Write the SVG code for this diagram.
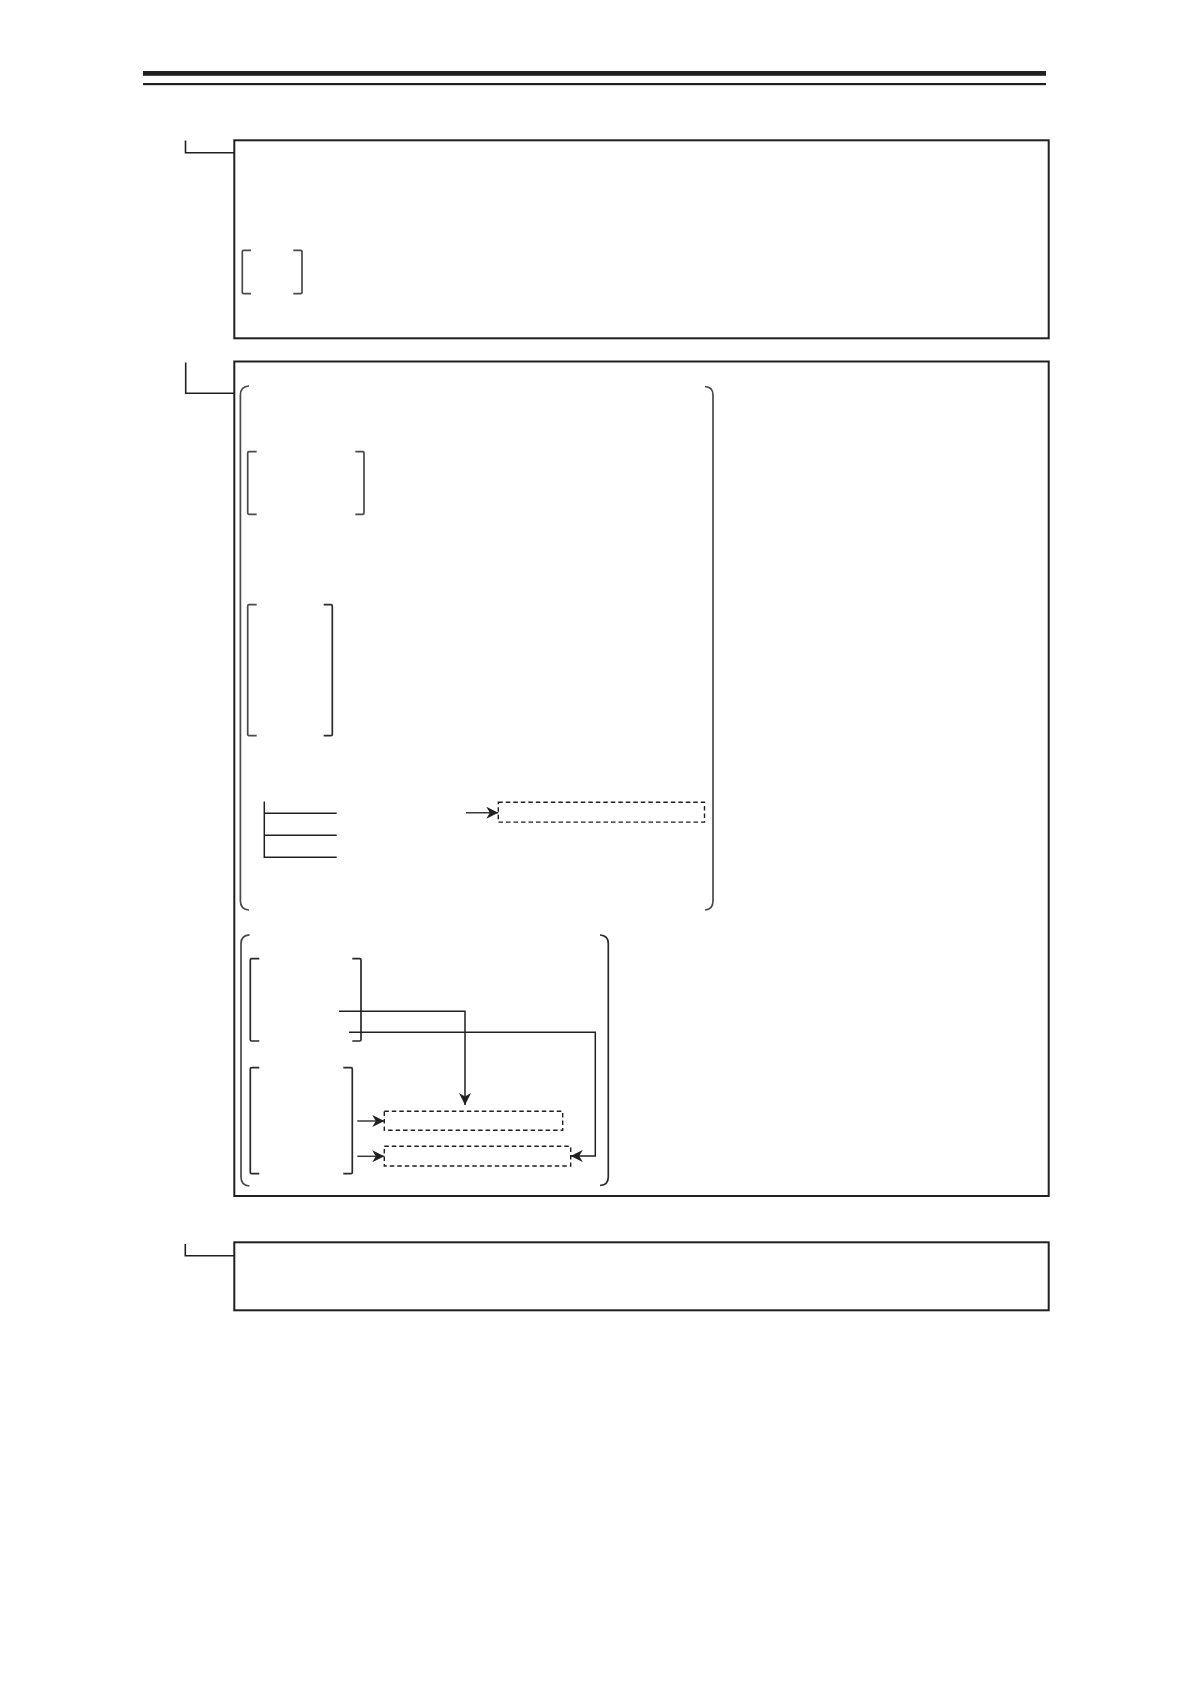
<svg xmlns="http://www.w3.org/2000/svg" width="1191" height="1684" viewBox="0 0 1191 1684">
<style>
.box{fill:none;stroke:#231f20;stroke-width:2}
.lead{fill:none;stroke:#231f20;stroke-width:1.6}
.brk{fill:none;stroke:#4a4a4a;stroke-width:1.7}
.brkd{fill:none;stroke:#2a2a2a;stroke-width:1.7}
.dash{fill:none;stroke:#231f20;stroke-width:1.4;stroke-dasharray:4.5 3}
.con{fill:none;stroke:#231f20;stroke-width:1.5}
.arr{fill:none;stroke:#3a3a3a;stroke-width:1.5;marker-end:url(#ah)}
</style>
<defs>
<marker id="ah" markerUnits="userSpaceOnUse" markerWidth="14" markerHeight="13" refX="12" refY="6" orient="auto">
<path d="M0,0 L12,6 L0,12 L3.5,6 Z" fill="#231f20"/>
</marker>
</defs>
<rect width="1191" height="1684" fill="#fff"/>
<g id="header">
<rect x="143" y="71" width="903" height="4.8" fill="#231f20"/>
<rect x="143" y="83" width="903" height="2.2" fill="#231f20"/>
</g>
<g id="section1">
<path class="lead" d="M185.5 140.5 V152.7 H234.3"/>
<rect class="box" x="234.3" y="140.3" width="814.4" height="198"/>
<path class="brk" d="M251 250.3 H243.5 Q242.3 250.3 242.3 251.5 V292.5 Q242.3 293.7 243.5 293.7 H251"/>
<path class="brk" d="M293.3 250.3 H300.8 Q302 250.3 302 251.5 V292.5 Q302 293.7 300.8 293.7 H293.3"/>
</g>
<g id="section2">
<path class="lead" d="M185.7 362.5 V393.3 H234.3"/>
<rect class="box" x="234.3" y="361.5" width="814.4" height="834.5"/>
<g id="paren1">
<path class="brk" d="M249 386 Q240.4 386.5 240.4 395 V901 Q240.4 909.5 249 910"/>
<path class="brk" d="M705 386.5 Q713 387 713 395 V901 Q713 909.5 705 910"/>
</g>
<g id="bracketA">
<path class="brk" d="M256.7 451.7 H249 Q247.7 451.7 247.7 453 V513 Q247.7 514.3 249 514.3 H256.7"/>
<path class="brk" d="M355.3 451.7 H362.7 Q364 451.7 364 453 V513 Q364 514.3 362.7 514.3 H355.3"/>
</g>
<g id="bracketB">
<path class="brk" d="M256.7 604.7 H249 Q247.7 604.7 247.7 606 V734.4 Q247.7 735.7 249 735.7 H256.7"/>
<path class="brkd" d="M323.7 604.7 H331 Q332.3 604.7 332.3 606 V734.4 Q332.3 735.7 331 735.7 H323.7"/>
</g>
<g id="tree">
<path class="con" d="M264.3 801.5 V857.3 H336.7 M264.3 813.2 H336.7 M264.3 835.3 H336.7"/>
</g>
<g id="dashbox1">
<rect class="dash" x="498.3" y="802.3" width="206.2" height="19.8"/>
</g>
<g id="paren2">
<path class="brk" d="M249.5 934.8 Q241 935.3 241 943.5 V1177 Q241 1185.5 249.5 1186"/>
<path class="brkd" d="M600 935 Q608.3 935.5 608.3 943.5 V1177 Q608.3 1185 600 1185.5"/>
</g>
<g id="bracketC">
<path class="brkd" d="M259.3 958.7 H251.6 Q250.3 958.7 250.3 960 V1039.7 Q250.3 1041 251.6 1041 H259.3"/>
<path class="brkd" d="M352.3 958.7 H359.7 Q361 958.7 361 960 V1039.7 Q361 1041 359.7 1041 H352.3"/>
</g>
<g id="bracketD">
<path class="brkd" d="M259.3 1067.7 H251.6 Q250.3 1067.7 250.3 1069 V1172.4 Q250.3 1173.7 251.6 1173.7 H259.3"/>
<path class="brkd" d="M343.3 1067.7 H351 Q352.3 1067.7 352.3 1069 V1172.4 Q352.3 1173.7 351 1173.7 H343.3"/>
</g>
<g id="dashbox2">
<rect class="dash" x="384.3" y="1111.3" width="178.4" height="19"/>
</g>
<g id="dashbox3">
<rect class="dash" x="384.3" y="1146.3" width="186.4" height="19.7"/>
</g>
</g>
<g id="section3">
<path class="lead" d="M185.3 1244 V1255.7 H234.3"/>
<rect class="box" x="234.3" y="1242.3" width="814.4" height="68"/>
</g>
<g id="connectors">
<path class="arr" d="M466 812.7 H498.3"/>
<path class="con" style="marker-end:url(#ah)" d="M339 1011.3 H465 V1105"/>
<path class="con" style="marker-end:url(#ah)" d="M349 1032.3 H595.3 V1156 H570.7"/>
<path class="arr" d="M357.3 1121 H384.3"/>
<path class="arr" d="M357.3 1156.3 H384.3"/>
</g>
</svg>
